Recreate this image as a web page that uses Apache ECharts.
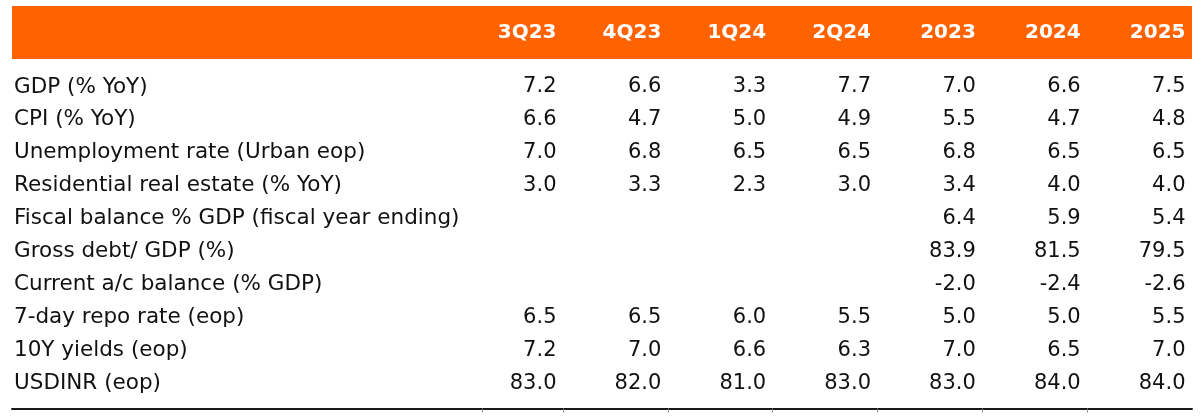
<!DOCTYPE html>
<html>
<head>
<meta charset="utf-8">
<script src="https://cdn.jsdelivr.net/npm/echarts@6/dist/echarts.min.js"></script>
<style>
  html, body { margin: 0; padding: 0; background: #fff; }
  #main { width: 1200px; height: 420px; }
</style>
</head>
<body>
<div id="main"></div>
<script>
// column headers and row labels
var columns = ['3Q23', '4Q23', '1Q24', '2Q24', '2023', '2024', '2025'];
var rowLabels = [
    'GDP (% YoY)',
    'CPI (% YoY)',
    'Unemployment rate (Urban eop)',
    'Residential real estate (% YoY)',
    'Fiscal balance % GDP (fiscal year ending)',
    'Gross debt/ GDP (%)',
    'Current a/c balance (% GDP)',
    '7-day repo rate (eop)',
    '10Y yields (eop)',
    'USDINR (eop)'
];
// values per row, null = blank cell
var gdp = [7.2, 6.6, 3.3, 7.7, 7.0, 6.6, 7.5];
var cpi = [6.6, 4.7, 5.0, 4.9, 5.5, 4.7, 4.8];
var unemployment = [7.0, 6.8, 6.5, 6.5, 6.8, 6.5, 6.5];
var residential = [3.0, 3.3, 2.3, 3.0, 3.4, 4.0, 4.0];
var fiscalBalance = [null, null, null, null, 6.4, 5.9, 5.4];
var grossDebt = [null, null, null, null, 83.9, 81.5, 79.5];
var currentAccount = [null, null, null, null, -2.0, -2.4, -2.6];
var repoRate = [6.5, 6.5, 6.0, 5.5, 5.0, 5.0, 5.5];
var yields10y = [7.2, 7.0, 6.6, 6.3, 7.0, 6.5, 7.0];
var usdinr = [83.0, 82.0, 81.0, 83.0, 83.0, 84.0, 84.0];

var rows = [gdp, cpi, unemployment, residential, fiscalBalance, grossDebt, currentAccount, repoRate, yields10y, usdinr];

var FONT = '"DejaVu Sans", sans-serif';
var TEXT = '#111';
var xMin = -4.256; // label column lives left of 0, each data column is 1 unit wide
var colEdges = [0.23, 1, 2, 3, 4, 5, 6];

var myChart = echarts.init(document.getElementById('main'));

function $each(arr, fn) {
    for (var i = 0; i < arr.length; i++) fn(i, arr[i]);
}

// header cells: anchor at right edge of each column
var headData = [];
$each(columns, function (c, name) {
    headData.push([c + 1, 'head', name]);
});
// body cells
var cellData = [];
$each(rows, function (r, vals) {
    $each(vals, function (c, v) {
        if (v !== null) cellData.push([c + 1, rowLabels[r], v]);
    });
});

var option = {
    animation: false,
    grid: [
        { left: 12, right: 8, top: 6, height: 53, show: true, backgroundColor: '#ff6200', borderWidth: 0 },
        { left: 12, right: 8, top: 70.5, bottom: 20.5 }
    ],
    xAxis: [
        { type: 'value', gridIndex: 0, min: xMin, max: 7, show: false },
        {
            type: 'value', gridIndex: 1, min: xMin, max: 7, position: 'bottom', offset: 9,
            axisLine: { show: true, lineStyle: { color: '#1a1a1a', width: 2 } },
            axisTick: { show: true, customValues: colEdges, length: 4, lineStyle: { color: '#8a8a8a', width: 1 } },
            axisLabel: { show: false },
            splitLine: { show: false }
        }
    ],
    yAxis: [
        { type: 'category', gridIndex: 0, data: ['head'], show: false },
        {
            type: 'category', gridIndex: 1, data: rowLabels, inverse: true,
            axisLine: { show: false },
            axisTick: { show: false },
            axisLabel: {
                interval: 0, align: 'left', margin: -2,
                color: TEXT, fontSize: 21.5, fontFamily: FONT
            }
        }
    ],
    series: [
        {
            type: 'scatter', xAxisIndex: 0, yAxisIndex: 0, silent: true,
            symbolSize: 1, itemStyle: { color: 'transparent', opacity: 1 },
            label: {
                show: true, position: 'left', distance: 6, opacity: 1,
                color: '#fff', fontSize: 20, fontWeight: 'bold', fontFamily: FONT,
                formatter: function (p) { return p.data[2]; }
            },
            data: headData
        },
        {
            type: 'scatter', xAxisIndex: 1, yAxisIndex: 1, silent: true,
            symbolSize: 1, itemStyle: { color: 'transparent', opacity: 1 },
            label: {
                show: true, position: 'left', distance: 6, opacity: 1,
                color: TEXT, fontSize: 21, fontFamily: FONT,
                formatter: function (p) { return p.data[2].toFixed(1); }
            },
            data: cellData
        }
    ]
};
myChart.setOption(option);
</script>
</body>
</html>
